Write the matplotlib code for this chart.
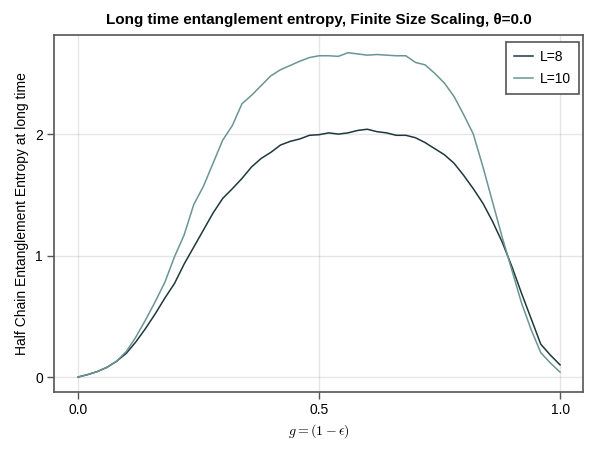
import numpy as np
import matplotlib.pyplot as plt
import matplotlib as mpl

# g values, step 0.02
g = np.round(np.arange(0, 51) * 0.02, 2)

S_L8 = [0.00, 0.02, 0.045, 0.08, 0.13, 0.195, 0.29, 0.40, 0.52, 0.65,
        0.77, 0.93, 1.07, 1.21, 1.35, 1.47, 1.55, 1.635, 1.73, 1.80,
        1.85, 1.91, 1.94, 1.96, 1.99, 1.995, 2.01, 2.00, 2.01, 2.03,
        2.04, 2.02, 2.01, 1.99, 1.99, 1.97, 1.93, 1.88, 1.83, 1.76,
        1.66, 1.55, 1.43, 1.28, 1.11, 0.91, 0.69, 0.48, 0.27, 0.18,
        0.10]

S_L10 = [0.00, 0.02, 0.045, 0.08, 0.13, 0.21, 0.33, 0.47, 0.62, 0.78,
         0.99, 1.17, 1.42, 1.57, 1.76, 1.95, 2.07, 2.25, 2.32, 2.40,
         2.48, 2.53, 2.565, 2.60, 2.63, 2.645, 2.645, 2.64, 2.67, 2.66,
         2.65, 2.655, 2.65, 2.645, 2.645, 2.59, 2.57, 2.50, 2.42, 2.31,
         2.16, 2.00, 1.73, 1.44, 1.15, 0.88, 0.61, 0.39, 0.20, 0.115,
         0.04]

labels = ["L=8", "L=10"]
colors = ["#1f383b", "#6a9594"]

plt.rcParams['font.family'] = ['Liberation Sans', 'DejaVu Sans']
plt.rcParams['mathtext.fontset'] = 'cm'
mpl.rcParams['axes.edgecolor'] = '#555555'

fig, ax = plt.subplots(figsize=(6, 4.5), dpi=100)
fig.subplots_adjust(left=0.09, right=0.972, bottom=0.129, top=0.922)

ax.plot(g, S_L8, color=colors[0], lw=1.1, label=labels[0])
ax.plot(g, S_L10, color=colors[1], lw=1.1, label=labels[1])

ax.set_xlim(-0.05, 1.048)
ax.set_ylim(-0.123, 2.815)
ax.set_xticks([0.0, 0.5, 1.0])
ax.set_xticklabels(["0.0", "0.5", "1.0"])
ax.set_yticks([0, 1, 2])
ax.grid(True, color='black', alpha=0.1, lw=1)
ax.set_axisbelow(True)
ax.tick_params(direction='out', length=5, width=1, color='#555555',
               labelsize=10, pad=3)
for sp in ax.spines.values():
    sp.set_linewidth(1.2)

ax.set_title("Long time entanglement entropy, Finite Size Scaling, θ=0.0",
             fontsize=11, fontweight='bold', pad=8)
ax.set_xlabel(r"$g = (1-\epsilon)$", fontsize=10, labelpad=4)
ax.set_ylabel("Half Chain Entanglement Entropy at long time", fontsize=10, labelpad=4)

leg = ax.legend(loc='upper right', bbox_to_anchor=(0.992, 0.98),
                fontsize=10, frameon=True, fancybox=False,
                edgecolor='#555555', framealpha=1, handlelength=1.4,
                handletextpad=0.5, borderpad=0.55, labelspacing=0.6,
                borderaxespad=0)
leg.get_frame().set_linewidth(1.2)

plt.savefig("out.png", dpi=100)
plt.close()
